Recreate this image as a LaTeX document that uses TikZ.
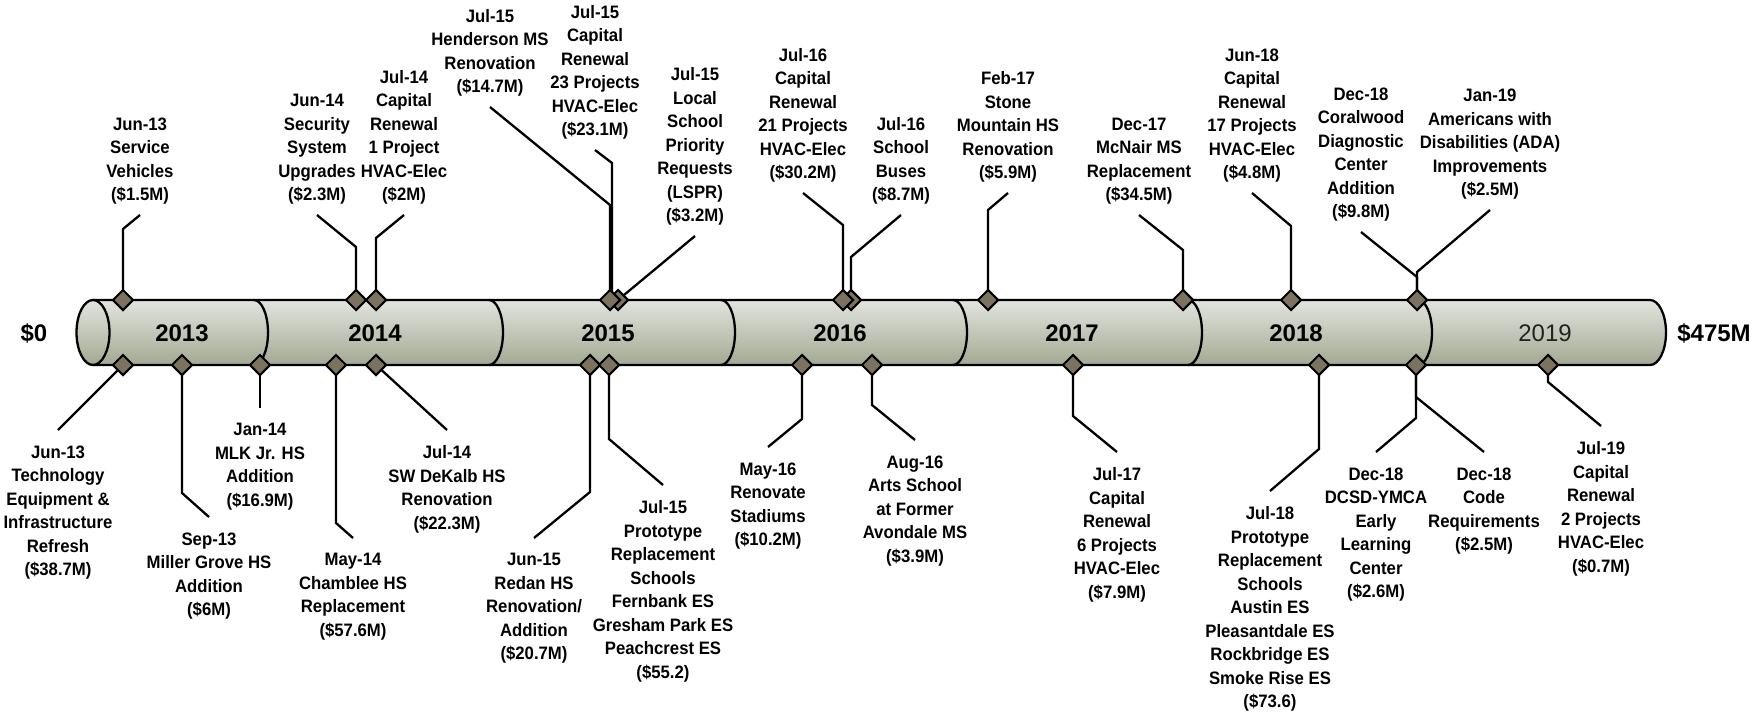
\documentclass[tikz,border=0pt]{standalone}
\usepackage{fontspec}
\setmainfont{Liberation Sans}
\newfontfamily\lblfont{Liberation Sans}[FakeStretch=0.93]
\usetikzlibrary{shapes.geometric}
\definecolor{diafill}{HTML}{7B735F}
\definecolor{cyltop}{HTML}{E2E4DE}
\definecolor{cylbot}{HTML}{A3A993}
\definecolor{yrgray}{HTML}{222222}
\pgfdeclarelayer{cyl}
\pgfdeclarelayer{conn}
\pgfsetlayers{cyl,conn,main}
\begin{document}
\begin{tikzpicture}[x=1pt,y=-1pt,
  ln/.style={line width=2.3pt, line join=miter},
  dmd/.style={diamond, draw=black, line width=2pt, fill=diafill,
    minimum width=21pt, minimum height=21pt, inner sep=0pt},
  lblbase/.style={font=\lblfont\bfseries\fontsize{18}{23.5}\selectfont,
    align=center, inner sep=0pt},
  tlbl/.style={lblbase, outer ysep=10.5pt, anchor=south},
  blbl/.style={lblbase, outer ysep=15.5pt, anchor=north},
  yr/.style={font=\bfseries\fontsize{24}{28}\selectfont, inner sep=0pt},
  yrlight/.style={font=\fontsize{24}{28}\selectfont, text=yrgray, inner sep=0pt},
]
\useasboundingbox (0,0) rectangle (1754,712);

% ---------- cylinder ----------
\begin{pgfonlayer}{cyl}
\fill[top color=cyltop, bottom color=cylbot]
  (93,300) -- (1650,300) arc[start angle=-90, end angle=90, x radius=16, y radius=32.5]
  -- (93,365) arc[start angle=90, end angle=270, x radius=16.5, y radius=32.5] -- cycle;
\draw[ln] (93,300) -- (1650,300) arc[start angle=-90, end angle=90, x radius=16, y radius=32.5]
  -- (93,365);
\draw[ln, top color=cyltop, bottom color=cylbot] (93,332.5) ellipse [x radius=16.5, y radius=32.5];
\foreach \dx in {254,489,721,953,1188,1418}
  \draw[ln] (\dx,300) arc[start angle=-90, end angle=90, x radius=14, y radius=32.5];
\end{pgfonlayer}

% ---------- year and end labels ----------
\node[yr] (y13) at (182,333) {2013};
\node[yr] (y14) at (375,333) {2014};
\node[yr] (y15) at (608,333) {2015};
\node[yr] (y16) at (840,333) {2016};
\node[yr] (y17) at (1072,333) {2017};
\node[yr] (y18) at (1296,333) {2018};
\node[yrlight] (y19) at (1545,333) {2019};
\node[yr] (lo) at (34,333) {\$0};
\node[yr] (hi) at (1714,333) {\$475M};

% ---------- diamond positions ----------
\coordinate (ct1) at (123,300);
\coordinate (ct2) at (356,300);
\coordinate (ct3) at (376,300);
\coordinate (ct4) at (610,300);
\coordinate (ct5) at (612,300);
\coordinate (ct6) at (618,300);
\coordinate (ct7) at (843,300);
\coordinate (ct8) at (851,300);
\coordinate (ct9) at (988,300);
\coordinate (ct10) at (1183,300);
\coordinate (ct11) at (1291,300);
\coordinate (ct12) at (1417,300);
\coordinate (cb1) at (123,365);
\coordinate (cb2) at (182,365);
\coordinate (cb3) at (260,365);
\coordinate (cb4) at (336,365);
\coordinate (cb5) at (376,365);
\coordinate (cb6) at (590,365);
\coordinate (cb7) at (609,365);
\coordinate (cb8) at (802,365);
\coordinate (cb9) at (872,365);
\coordinate (cb10) at (1073,365);
\coordinate (cb11) at (1319,365);
\coordinate (cb12) at (1416,365);
\coordinate (cb13) at (1548,365);

% ---------- top labels ----------
\node[tlbl] (t1) at (140,215) {Jun-13\\Service\\Vehicles\\(\$1.5M)};
\node[tlbl] (t2) at (317,215) {Jun-14\\Security\\System\\Upgrades\\(\$2.3M)};
\node[tlbl] (t3) at (404,215) {Jul-14\\Capital\\Renewal\\1 Project\\HVAC-Elec\\(\$2M)};
\node[tlbl] (t4) at (490,107) {Jul-15\\Henderson MS\\Renovation\\(\$14.7M)};
\node[tlbl] (t5) at (595,150) {Jul-15\\Capital\\Renewal\\23 Projects\\HVAC-Elec\\(\$23.1M)};
\node[tlbl] (t6) at (695,236) {Jul-15\\Local\\School\\Priority\\Requests\\(LSPR)\\(\$3.2M)};
\node[tlbl] (t7) at (803,193) {Jul-16\\Capital\\Renewal\\21 Projects\\HVAC-Elec\\(\$30.2M)};
\node[tlbl] (t8) at (901,215) {Jul-16\\School\\Buses\\(\$8.7M)};
\node[tlbl] (t9) at (1008,193) {Feb-17\\Stone\\Mountain HS\\Renovation\\(\$5.9M)};
\node[tlbl] (t10) at (1139,215) {Dec-17\\McNair MS\\Replacement\\(\$34.5M)};
\node[tlbl] (t11) at (1252,193) {Jun-18\\Capital\\Renewal\\17 Projects\\HVAC-Elec\\(\$4.8M)};
\node[tlbl] (t12) at (1361,232) {Dec-18\\Coralwood\\Diagnostic\\Center\\Addition\\(\$9.8M)};
\node[tlbl] (t13) at (1490,210) {Jan-19\\Americans with\\Disabilities (ADA)\\Improvements\\(\$2.5M)};

% ---------- bottom labels ----------
\node[blbl] (b1) at (58,430) {Jun-13\\Technology\\Equipment \&\\Infrastructure\\Refresh\\(\$38.7M)};
\node[blbl] (b2) at (209,517) {Sep-13\\Miller Grove HS\\Addition\\(\$6M)};
\node[blbl] (b3) at (260,408) {Jan-14\\MLK Jr. HS\\Addition\\(\$16.9M)};
\node[blbl] (b4) at (353,538) {May-14\\Chamblee HS\\Replacement\\(\$57.6M)};
\node[blbl] (b5) at (447,430) {Jul-14\\SW DeKalb HS\\Renovation\\(\$22.3M)};
\node[blbl] (b6) at (534,538) {Jun-15\\Redan HS\\Renovation/\\Addition\\(\$20.7M)};
\node[blbl] (b7) at (663,485) {Jul-15\\Prototype\\Replacement\\Schools\\Fernbank ES\\Gresham Park ES\\Peachcrest ES\\(\$55.2)};
\node[blbl] (b8) at (768,447) {May-16\\Renovate\\Stadiums\\(\$10.2M)};
\node[blbl] (b9) at (915,440) {Aug-16\\Arts School\\at Former\\Avondale MS\\(\$3.9M)};
\node[blbl] (b10) at (1117,452) {Jul-17\\Capital\\Renewal\\6 Projects\\HVAC-Elec\\(\$7.9M)};
\node[blbl] (b11) at (1270,491) {Jul-18\\Prototype\\Replacement\\Schools\\Austin ES\\Pleasantdale ES\\Rockbridge ES\\Smoke Rise ES\\(\$73.6)};
\node[blbl] (b12) at (1376,452) {Dec-18\\DCSD-YMCA\\Early\\Learning\\Center\\(\$2.6M)};
\node[blbl] (b13) at (1484,452) {Dec-18\\Code\\Requirements\\(\$2.5M)};
\node[blbl] (b14) at (1601,426) {Jul-19\\Capital\\Renewal\\2 Projects\\HVAC-Elec\\(\$0.7M)};

% ---------- connectors ----------
\begin{pgfonlayer}{conn}
\draw[ln] (t1.south) -- (ct1 |- 0,229) -- (ct1);
\draw[ln] (t2.south) -- (ct2 |- 0,247) -- (ct2);
\draw[ln] (t3.south) -- (ct3 |- 0,238) -- (ct3);
\draw[ln] (t4.south) -- (ct4 |- 0,205) -- (ct4);
\draw[ln] (t5.south) -- (ct5 |- 0,163) -- (ct5);
\draw[ln] (t6.south) -- (ct6);
\draw[ln] (t7.south) -- (ct7 |- 0,225) -- (ct7);
\draw[ln] (t8.south) -- (ct8 |- 0,257) -- (ct8);
\draw[ln] (t9.south) -- (ct9 |- 0,210) -- (ct9);
\draw[ln] (t10.south) -- (ct10 |- 0,250) -- (ct10);
\draw[ln] (t11.south) -- (ct11 |- 0,226) -- (ct11);
\draw[ln] (t12.south) -- (ct12 |- 0,277) -- (ct12);
\draw[ln] (t13.south) -- (ct12 |- 0,272) -- (ct12);

\draw[ln] (b1.north) -- (cb1);
\draw[ln] (b2.north) -- (cb2 |- 0,493) -- (cb2);
\draw[ln] (b3.north) -- (cb3);
\draw[ln] (b4.north) -- (cb4 |- 0,523) -- (cb4);
\draw[ln] (b5.north) -- (cb5);
\draw[ln] (b6.north) -- (cb6 |- 0,492) -- (cb6);
\draw[ln] (b7.north) -- (cb7 |- 0,439) -- (cb7);
\draw[ln] (b8.north) -- (cb8 |- 0,419) -- (cb8);
\draw[ln] (b9.north) -- (cb9 |- 0,405) -- (cb9);
\draw[ln] (b10.north) -- (cb10 |- 0,416) -- (cb10);
\draw[ln] (b11.north) -- (cb11 |- 0,449) -- (cb11);
\draw[ln] (b12.north) -- (cb12 |- 0,418) -- (cb12);
\draw[ln] (b13.north) -- (cb12 |- 0,397) -- (cb12);
\draw[ln] (b14.north) -- (cb13 |- 0,382) -- (cb13);
\end{pgfonlayer}

% ---------- diamonds ----------
\node[dmd] (dt1) at (ct1) {};
\node[dmd] (dt2) at (ct2) {};
\node[dmd] (dt3) at (ct3) {};
\node[dmd] (dt6) at (ct6) {};
\node[dmd] (dt4) at (ct4) {};
\node[dmd] (dt8) at (ct8) {};
\node[dmd] (dt7) at (ct7) {};
\node[dmd] (dt9) at (ct9) {};
\node[dmd] (dt10) at (ct10) {};
\node[dmd] (dt11) at (ct11) {};
\node[dmd] (dt12) at (ct12) {};
\node[dmd] (db1) at (cb1) {};
\node[dmd] (db2) at (cb2) {};
\node[dmd] (db3) at (cb3) {};
\node[dmd] (db4) at (cb4) {};
\node[dmd] (db5) at (cb5) {};
\node[dmd] (db6) at (cb6) {};
\node[dmd] (db7) at (cb7) {};
\node[dmd] (db8) at (cb8) {};
\node[dmd] (db9) at (cb9) {};
\node[dmd] (db10) at (cb10) {};
\node[dmd] (db11) at (cb11) {};
\node[dmd] (db12) at (cb12) {};
\node[dmd] (db13) at (cb13) {};
\end{tikzpicture}
\end{document}
